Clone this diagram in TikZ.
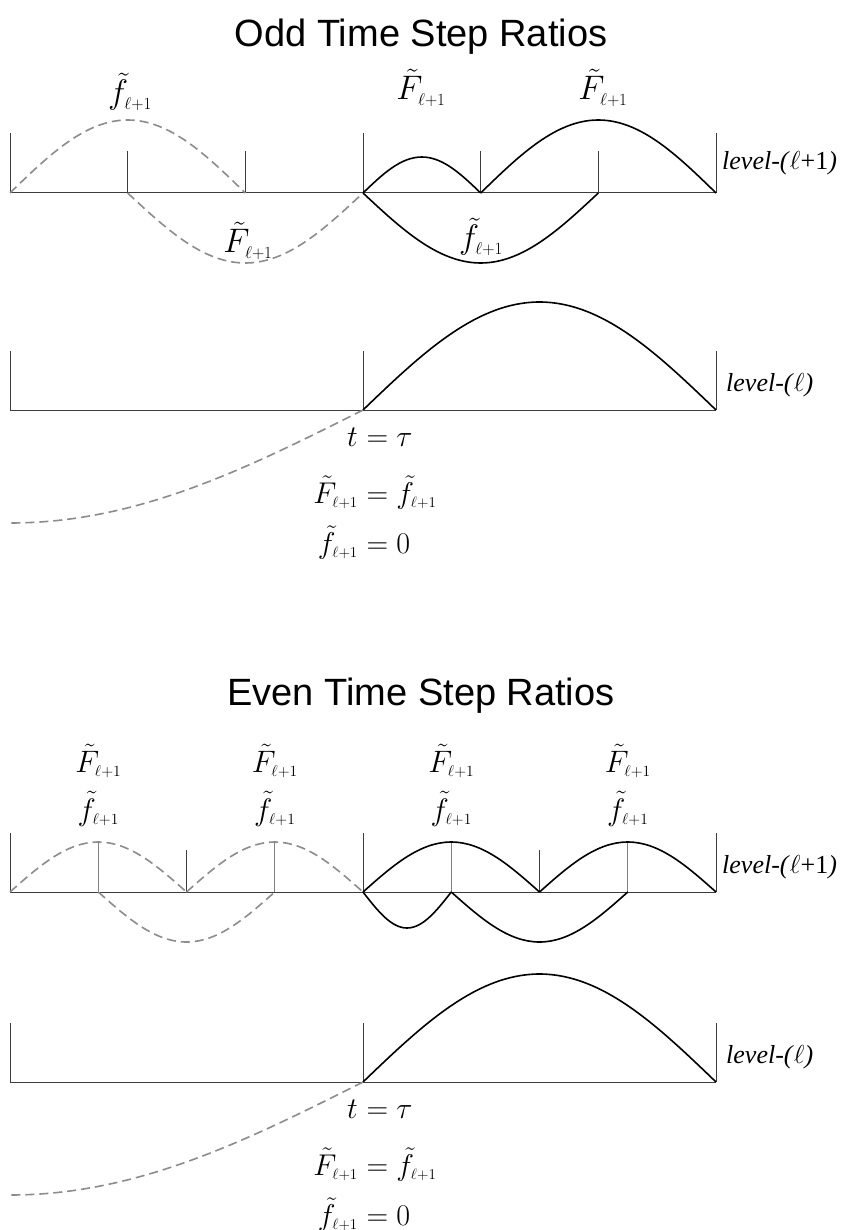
\RequirePackage{fix-cm}
\documentclass[tikz,border=0pt]{standalone}
\usepackage{amsmath}
\usepackage{fontspec}
\setmainfont{Liberation Serif}
\newfontfamily\titlefont{Liberation Sans}
\usetikzlibrary{positioning}
\definecolor{DashGray}{RGB}{140,140,140}
\definecolor{AxisGray}{RGB}{60,60,60}
\definecolor{MidGray}{RGB}{130,130,130}
\newcommand{\lp}{{\scriptscriptstyle\ell+1}}
\tikzset{
  axisline/.style={AxisGray,line width=1pt},
  tickmark/.style={AxisGray,line width=0.8pt},
  midtick/.style={MidGray,line width=0.8pt},
  curve/.style={black,line width=1.6pt},
  dashcurve/.style={DashGray,line width=1.6pt,dash pattern=on 9pt off 5pt},
  headline/.style={font=\titlefont\fontsize{38}{44}\selectfont,anchor=base,inner sep=0pt},
  lab/.style={font=\fontsize{34}{40}\selectfont,anchor=base,inner sep=0pt},
  labsmall/.style={font=\fontsize{31}{36}\selectfont,anchor=base,inner sep=0pt},
  eqn/.style={font=\fontsize{30}{36}\selectfont,inner sep=0pt},
  levlab/.style={font=\fontsize{26}{30}\selectfont,anchor=west,inner sep=0pt}
}
\begin{document}
\begin{tikzpicture}[x=1pt,y=-1pt]
\useasboundingbox (0,0) rectangle (843,1230);
% titles
\node[headline] (oddtitle) at (421,47) {Odd Time Step Ratios};
\node[headline] (eventitle) at (421,705) {Even Time Step Ratios};
% odd: level l+1
\draw[axisline] (10,193) -- (716,193);
\foreach \x/\t in {10/133,127.67/151,245.33/151,363/133,480.67/151,598.33/151,716/133}
  \draw[tickmark] (\x,193) -- (\x,\t);
\draw[dashcurve] (10,193) sin (127.67,120) cos (245.33,193);
\draw[dashcurve] (127.67,193) sin (245.33,263) cos (363,193);
\draw[curve] (363,193) sin (421.8,157) cos (480.67,193);
\draw[curve] (480.67,193) sin (598.33,120) cos (716,193);
\draw[curve] (363,193) sin (480.67,263) cos (598.33,193);
\node[lab] (fodd) at (130,104) {$\tilde f_{\lp}$};
\node[lab] (Fodda) at (421,100) {$\tilde F_{\lp}$};
\node[lab] (Foddb) at (603,100) {$\tilde F_{\lp}$};
\node[lab] (Foddc) at (248,253) {$\tilde F_{\lp}$};
\node[lab] (foddc) at (481,249) {$\tilde f_{\lp}$};
\node[levlab] (oddfine) at (722,163) {\textit{level-(}$\ell$+1\textit{)}};
% even: level l+1
\draw[axisline] (10,892) -- (716,892);
\foreach \x/\t in {10/833,186.5/850,363/833,539.5/850,716/833}
  \draw[tickmark] (\x,892) -- (\x,\t);
\foreach \x in {98.25,274.75,451.25,627.75}
  \draw[midtick] (\x,892) -- (\x,842);
\draw[dashcurve] (10,892) sin (98.25,842) cos (186.5,892);
\draw[dashcurve] (186.5,892) sin (274.75,842) cos (363,892);
\draw[dashcurve] (98.25,892) sin (186.5,942) cos (274.75,892);
\draw[curve] (363,892) sin (451.25,842) cos (539.5,892);
\draw[curve] (539.5,892) sin (627.75,842) cos (716,892);
\draw[curve] (363,892) sin (407,928) cos (451.25,892);
\draw[curve] (451.25,892) sin (539.5,942) cos (627.75,892);
\foreach \x [count=\i] in {98.25,274.75,451.25,627.75}{
  \node[labsmall] (Feven\i) at (\x,772) {$\tilde F_{\lp}$};
  \node[labsmall] (feven\i) at (\x,820) {$\tilde f_{\lp}$};
}
\node[levlab] (evenfine) at (722,867) {\textit{level-(}$\ell$+1\textit{)}};
% level l, same in both halves
\foreach \o/\s in {410/odd,1082/even}{
  \draw[axisline] (10,\o) -- (716,\o);
  \foreach \x in {10,363,716}
    \draw[tickmark] (\x,\o) -- (\x,\o-59);
  \draw[curve] (363,\o) sin (539.5,\o-108) cos (716,\o);
  \draw[dashcurve] (363,\o) sin (10,\o+113);
  \node[levlab] (\s coarse) at (726,\o-25) {\textit{level-(}$\ell$\textit{)}};
  \foreach \lhs/\rhs/\d [count=\i] in {t/\tau/36,\tilde F_{\lp}/\tilde f_{\lp}/93,\tilde f_{\lp}/0/143}{
    \node[eqn,anchor=base east] (\s lhs\i) at (358,\o+\d) {$\lhs$};
    \node[eqn,anchor=base west] (\s rhs\i) at (\s lhs\i.base east) {${}=\rhs$};
  }
}
\end{tikzpicture}
\end{document}
